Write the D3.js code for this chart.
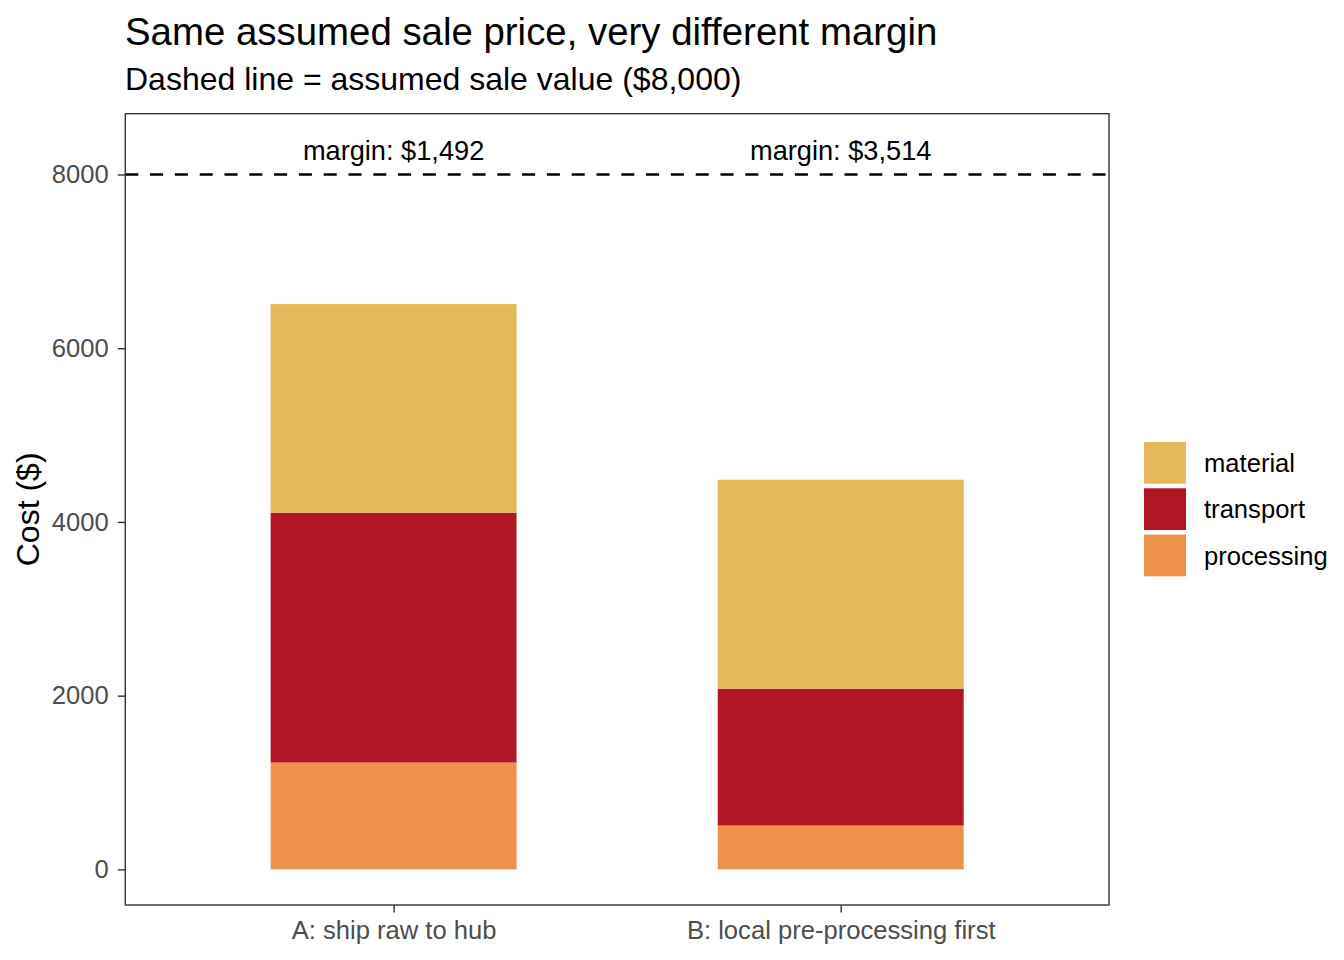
<!DOCTYPE html>
<html>
<head>
<meta charset="utf-8">
<script src="https://cdn.jsdelivr.net/npm/d3@7"></script>
<style>
  html, body { margin: 0; padding: 0; background: #fff; }
  text { font-family: "Liberation Sans", Arial, Helvetica, sans-serif; }
</style>
</head>
<body>
<svg id="chart" width="1344" height="960"></svg>
<script>
// ---- data ----
const categories = ["A: ship raw to hub", "B: local pre-processing first"];
const components = ["processing", "transport", "material"];      // stack order, bottom to top
const legendOrder = ["material", "transport", "processing"];
const processing = [1230, 505];
const transport  = [2876, 1575];
const material   = [2402, 2406];
const salePrice = 8000;
const yTicks = [0, 2000, 4000, 6000, 8000];
const colors = { material: "#E3B95A", transport: "#B01623", processing: "#EE914A" };

const rows = categories.map((c, i) => ({
  category: c, processing: processing[i], transport: transport[i], material: material[i]
}));

// ---- layout ----
const W = 1344, H = 960;
const panel = { left: 125.3, right: 1109, top: 113.7, bottom: 905 };
const svg = d3.select("#chart");
svg.append("rect").attr("width", W).attr("height", H).attr("fill", "#fff");

const x = d3.scalePoint().domain(categories).range([panel.left, panel.right]).padding(0.6);
const barW = x.step() * 0.55;
const y = d3.scaleLinear().domain([-410, 8700]).range([panel.bottom, panel.top]);

const stack = d3.stack().keys(components)(rows);

const g = svg.append("g");
stack.forEach(layer => {
  g.append("g").attr("fill", colors[layer.key])
    .selectAll("rect").data(layer).join("rect")
    .attr("x", d => x(d.data.category) - barW / 2)
    .attr("width", barW)
    .attr("y", d => y(d[1]))
    .attr("height", d => y(d[0]) - y(d[1]));
});

// dashed sale line
g.append("line")
  .attr("x1", panel.left).attr("x2", panel.right)
  .attr("y1", y(salePrice)).attr("y2", y(salePrice))
  .attr("stroke", "#000").attr("stroke-width", 2.6)
  .attr("stroke-dasharray", "13,11.8");

// margin labels
const totals = rows.map(r => r.processing + r.transport + r.material);
g.selectAll("text.margin").data(rows).join("text")
  .attr("class", "margin")
  .attr("x", d => x(d.category))
  .attr("y", y(salePrice) - 15)
  .attr("text-anchor", "middle")
  .attr("font-size", 27.2)
  .attr("fill", "#000")
  .text((d, i) => "margin: $" + d3.format(",")(salePrice - totals[i]));

// panel border
svg.append("rect")
  .attr("x", panel.left).attr("y", panel.top)
  .attr("width", panel.right - panel.left).attr("height", panel.bottom - panel.top)
  .attr("fill", "none").attr("stroke", "#333").attr("stroke-width", 1.4);

// axes
const yAxis = svg.append("g").attr("transform", `translate(${panel.left},0)`)
  .call(d3.axisLeft(y).tickValues(yTicks).tickSize(7.5).tickPadding(9).tickFormat(d3.format("d")));
const xAxis = svg.append("g").attr("transform", `translate(0,${panel.bottom})`)
  .call(d3.axisBottom(x).tickSize(7.5).tickPadding(8));
[yAxis, xAxis].forEach(a => {
  a.select(".domain").remove();
  a.selectAll(".tick line").attr("stroke", "#333").attr("stroke-width", 1.4);
  a.selectAll(".tick text").attr("fill", "#4d4d4d").attr("font-size", 25.6)
    .style("font-family", '"Liberation Sans", Arial, sans-serif');
});

// y title
svg.append("text")
  .attr("transform", `translate(39,${(panel.top + panel.bottom) / 2}) rotate(-90)`)
  .attr("text-anchor", "middle").attr("font-size", 32).attr("fill", "#000")
  .text("Cost ($)");

// title & subtitle
svg.append("text").attr("x", 125).attr("y", 45).attr("font-size", 38.4).attr("fill", "#000")
  .text("Same assumed sale price, very different margin");
svg.append("text").attr("x", 125).attr("y", 90).attr("font-size", 32).attr("fill", "#000")
  .text("Dashed line = assumed sale value ($8,000)");

// legend
const keyH = 41.7, keyGap = 4.6;
const leg = svg.append("g").attr("transform", "translate(1144,442)");
legendOrder.forEach((k, i) => {
  const yy = i * (keyH + keyGap);
  leg.append("rect").attr("x", 0).attr("y", yy).attr("width", 42).attr("height", keyH)
    .attr("fill", colors[k]);
  leg.append("text").attr("x", 60).attr("y", yy + keyH / 2).attr("dy", "0.36em")
    .attr("font-size", 25.6).attr("fill", "#000").text(k);
});
</script>
</body>
</html>
